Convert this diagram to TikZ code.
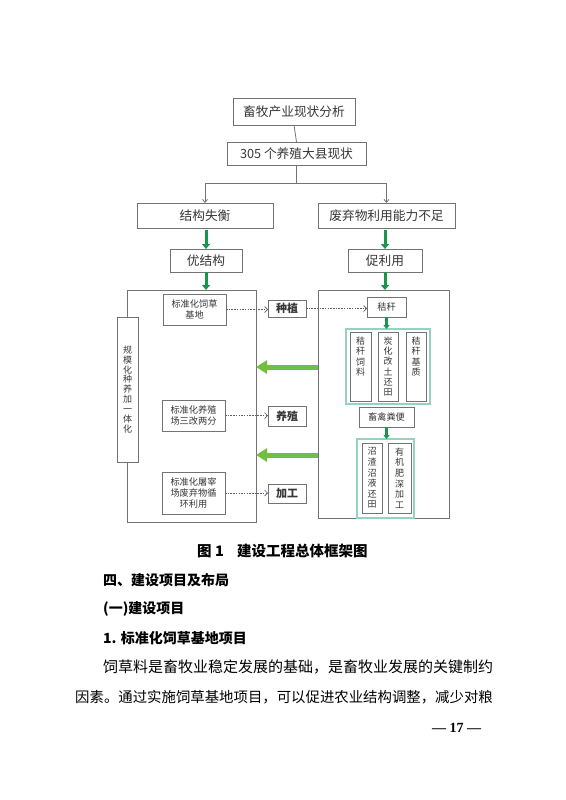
\documentclass[tikz,border=0pt]{standalone}
\usepackage{fontspec}
\setmainfont{Liberation Serif}
\newfontfamily\cjk{Noto Sans CJK SC}
\usetikzlibrary{arrows.meta}
\definecolor{bd}{RGB}{115,115,115}
\definecolor{tx}{RGB}{55,55,55}
\definecolor{gdark}{RGB}{25,150,75}
\definecolor{glight}{RGB}{115,190,65}
\definecolor{tealc}{RGB}{150,210,195}
\definecolor{dashc}{RGB}{90,90,125}
\tikzset{
 box/.style={draw=bd,line width=0.8pt,inner sep=0pt,outer sep=0pt,align=center,text=tx,font=\cjk,fill=white,execute at begin node={\lineskiplimit=-20pt\lineskip=0pt}},
 grp/.style={draw=tealc,line width=1.3pt,inner sep=0pt,outer sep=0pt,fill=white},
 plainln/.style={draw=bd,line width=0.8pt},
 conn/.style={draw=bd,line width=0.8pt,-{Straight Barb[length=3pt,width=5pt]}},
 garr/.style={draw=gdark,line width=3pt,-{Triangle[length=5pt,width=8pt]}},
 sgarr/.style={draw=gdark,line width=2.2pt,-{Triangle[length=4pt,width=6pt]}},
 bigarr/.style={draw=glight,line width=5pt,-{Triangle[length=11pt,width=13pt]}},
 darr/.style={draw=dashc,line width=0.7pt,dash pattern=on 1.5pt off 1.2pt,-{Straight Barb[length=3pt,width=6pt]}},
 lbl/.style={font=\cjk\fontsize{12.7}{14}\selectfont},
 sml/.style={font=\cjk\fontsize{9.2}{11}\selectfont},
 vt/.style={font=\cjk\fontsize{9}{#1}\selectfont},
 bolt/.style={font=\cjk\bfseries\fontsize{11}{12}\selectfont},
 vtext/.style={anchor=north,inner sep=0pt,align=center,text=tx,font=\cjk\fontsize{9}{10.2}\selectfont,execute at begin node={\lineskiplimit=-20pt\lineskip=0pt}},
 bodytx/.style={anchor=west,inner sep=0pt,text=black}
}
\newcommand\bx[7][]{\node[box,minimum width={#5-#3},minimum height={#6-#4},#1] (#2) at ({(#3+#5)/2},{(#4+#6)/2}) {#7};}
\begin{document}
\begin{tikzpicture}[x=1pt,y=-1pt]
\useasboundingbox (0,0) rectangle (565,800);
% big frames
\bx{lbig}{127}{290}{256}{522}{}
\bx{rbig}{318}{290}{449}{518}{}
% top chain
\bx[lbl]{t1}{233}{98}{355}{125}{畜牧产业现状分析}
\bx[lbl]{t2}{227}{142}{366}{165}{305 个养殖大县现状}
\bx[lbl]{lb}{137}{203}{273}{228}{结构失衡}
\bx[lbl]{rb}{318}{203}{455}{228}{废弃物利用能力不足}
\bx[lbl]{lj}{170}{249}{242}{272}{优结构}
\bx[lbl]{rj}{348}{249}{422}{272}{促利用}
\coordinate (sp) at (296.5,183);
\draw[plainln] (t1.south) -- (t2.north);
\draw[plainln] (t2.south) -- (sp);
\draw[conn] (sp) -| (lb.north);
\draw[conn] (sp) -| (rb.north);
\draw[garr] (lj.north |- lb.south) ++(0,2) -- (lj.north);
\draw[garr] (rj.north |- rb.south) ++(0,2) -- (rj.north);
\draw[garr] (lj.south) -- (lj.south |- lbig.north);
\draw[garr] (rj.south) -- (rj.south |- rbig.north);
% left column
\bx[vt=9.9]{side}{117}{317}{138}{462}{规\\模\\化\\种\\养\\加\\一\\体\\化}
\bx[sml]{s1}{163}{294}{226}{325}{标准化饲草\\基地}
\bx[sml]{s2}{162}{400}{225}{431}{标准化养殖\\场三改两分}
\bx[sml]{s3}{162}{472}{225}{514}{标准化屠宰\\场废弃物循\\环利用}
\bx[bolt]{zz}{268}{300}{306}{317}{种植}
\bx[bolt]{yz}{268}{406}{306}{426}{养殖}
\bx[bolt]{jgg}{268}{484}{306}{503}{加工}
% right column
\bx[sml]{jg}{367}{297}{406}{317}{秸秆}
\node[grp,minimum width=84,minimum height=75] (g1) at (388,366.5) {};
\bx{v1}{350}{332}{371}{401}{}
\bx[vt=10.2]{v2}{378}{332}{398}{401}{炭\\化\\改\\土\\还\\田}
\bx{v3}{406}{332}{426}{401}{}
\node[vtext] (v1t) at ([yshift=-5pt]v1.north) {秸\\秆\\饲\\料};
\node[vtext] (v3t) at ([yshift=-5pt]v3.north) {秸\\秆\\基\\质};
\bx[sml]{fb}{359}{407}{414}{427}{畜禽粪便}
\node[grp,minimum width=57,minimum height=79] (g2) at (385.5,478.5) {};
\bx[vt=10.6]{v4}{362}{443}{382}{513}{沼\\渣\\沼\\液\\还\\田}
\bx[vt=10.6]{v5}{388}{443}{411}{513}{有\\机\\肥\\深\\加\\工}
\draw[sgarr] (jg.south) -- (jg.south |- g1.north);
\draw[sgarr] (fb.south) -- (fb.south |- g2.north);
% dashed links
\draw[darr] (s1.east) -- (s1.east -| zz.west);
\draw[darr] (s2.east) -- (s2.east -| yz.west);
\draw[darr] (s3.east) -- (s3.east -| jgg.west);
\draw[darr] (zz.east) -- (zz.east -| jg.west);
% big green arrows
\coordinate (ya) at (300,367);
\coordinate (yb) at (300,455);
\draw[bigarr] (rbig.west |- ya) -- (lbig.east |- ya);
\draw[bigarr] (rbig.west |- yb) -- (lbig.east |- yb);
% text below
\node[bodytx,font=\cjk\bfseries\fontsize{14.5}{16}\selectfont] (cap1) at (197,551) {图 1};
\node[bodytx,font=\cjk\bfseries\fontsize{14.5}{16}\selectfont] (cap2) at (237,551) {建设工程总体框架图};
\node[bodytx,font=\cjk\bfseries\fontsize{14}{16}\selectfont] (h1) at (103,580) {四、建设项目及布局};
\node[bodytx,font=\cjk\bfseries\fontsize{14}{16}\selectfont] (h2) at (103,609) {(一)建设项目};
\node[bodytx,font=\cjk\bfseries\fontsize{14}{16}\selectfont] (h3) at (103,638) {1. 标准化饲草基地项目};
\node[bodytx,font=\cjk\fontsize{15}{16}\selectfont] (p1) at (103,667) {饲草料是畜牧业稳定发展的基础，是畜牧业发展的关键制约};
\node[bodytx,font=\cjk\fontsize{14.4}{16}\selectfont] (p2) at (75,697) {因素。通过实施饲草基地项目，可以促进农业结构调整，减少对粮};
\node[bodytx,font=\bfseries\fontsize{14}{16}\selectfont] (pg) at (432,728) {— 17 —};
\end{tikzpicture}
\end{document}
